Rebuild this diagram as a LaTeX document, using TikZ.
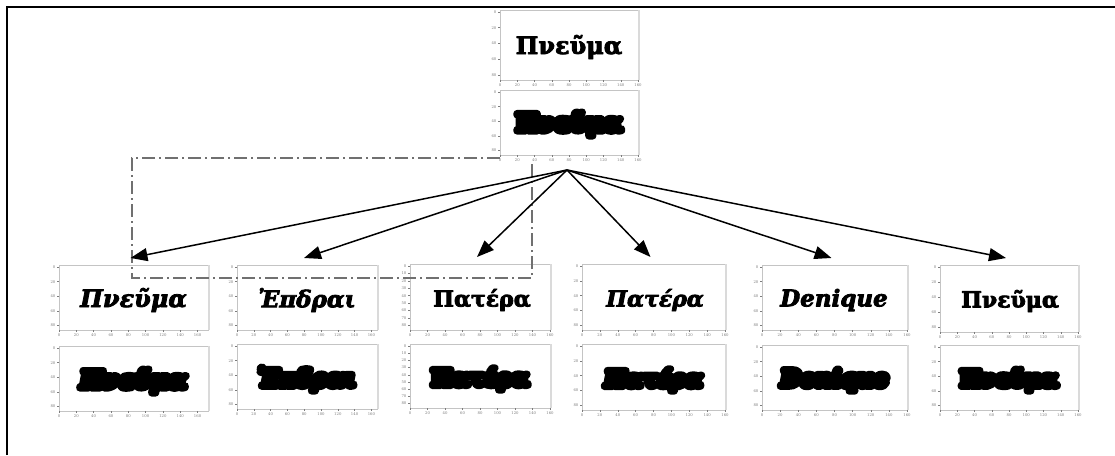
\documentclass[tikz,border=0pt]{standalone}
\usepackage{fontspec}
\setmainfont{DejaVu Serif}
\usetikzlibrary{arrows.meta}

\definecolor{boxgray}{HTML}{C4C4C4}
\definecolor{barsgray}{HTML}{DADADA}
\definecolor{tickgray}{HTML}{7C7C7C}
\definecolor{dashgray}{HTML}{707070}

% text filled and stroked with a pen of width #1 (round joins)
\newcommand\inkstroke[2]{%
  \special{pdf:literal direct 2 Tr #1 w 1 j 1 J}#2\special{pdf:literal direct 0 Tr}}

\tikzset{
  plotbox/.style={draw=boxgray, line width=0.8pt, fill=white, inner sep=0pt, outer sep=0pt},
  sidebar/.style={draw=barsgray, line width=2.5pt},
  tickmark/.style={draw=tickgray, line width=0.5pt},
  ticklabel/.style={font=\fontsize{3.8}{4}\selectfont, text=tickgray, inner sep=0.4pt},
  uprightword/.style={font=\bfseries\fontsize{#1}{#1}\selectfont, inner sep=0pt},
  italicword/.style={font=\bfseries\itshape\fontsize{#1}{#1}\selectfont, inner sep=0pt},
  link/.style={line width=1.5pt, -{Triangle[length=17pt,width=13pt]}},
  outline/.style={draw=dashgray, line width=1.4pt, dash pattern=on 13pt off 4pt on 2pt off 4pt},
  border/.style={draw=black, line width=2pt},
}

% one framed plot: #1 name, #2 centre x, #3 top y, #4 width, #5 height,
% #6 share of the width spanned by the x ticks, #7 y labels, #8 their number
\newcommand\plotpanel[8]{%
  \node[plotbox, minimum width=#4pt, minimum height=#5pt, anchor=north] (#1) at (#2,#3) {};
  \draw[sidebar] ([xshift=1pt]#1.north east) -- ([xshift=1pt]#1.south east);
  \foreach \lab [count=\k] in {0,20,40,60,80,100,120,140,160}{
    \pgfmathsetmacro\tx{(\k-1)/8*#6*#4}
    \draw[tickmark] ([xshift=\tx pt]#1.south west) -- ++(0,2);
    \node[ticklabel, anchor=north] (#1-x\k) at ([xshift=\tx pt, yshift=-3pt]#1.south west) {\lab};
  }
  \foreach \lab [count=\k] in {#7}{
    \pgfmathsetmacro\ty{(\k-1)/(#8-1)*0.9*#5+2}
    \draw[tickmark] ([yshift=-\ty pt]#1.north west) -- ++(-2,0);
    \node[ticklabel, anchor=east] (#1-y\k) at ([yshift=-\ty pt, xshift=-3pt]#1.north west) {\lab};
  }
}

\begin{document}
\begin{tikzpicture}[x=1pt, y=-1pt]
\useasboundingbox (0,0) rectangle (1115,455);

% outer border
\coordinate (fa) at (7,455);
\coordinate (fb) at (7,7);
\coordinate (fc) at (1115,7);
\draw[border] (fa) -- (fb) -- (fc);

% source word
\plotpanel{tu}{569}{10}{138}{70}{1}{0,20,40,60,80}{5}
\plotpanel{tl}{569}{90}{138}{65}{1}{0,20,40,60,80}{5}
\node[uprightword=24] (tw) at (569,47) {\inkstroke{0.8}{Πνεῦμα}};
\node[uprightword=24] (tb) at (569,124) {\inkstroke{7}{Πνεῦμα}};

% matched words
\plotpanel{p1u}{133.5}{265}{149}{65}{0.93}{0,20,40,60,80}{5}
\plotpanel{p1l}{133.5}{346}{149}{65}{0.93}{0,20,40,60,80}{5}
\node[italicword=24] (w1) at (133.5,300) {\inkstroke{0.8}{Πνεῦμα}};
\node[italicword=24] (b1) at (133.5,381) {\inkstroke{7}{Πνεῦμα}};

\plotpanel{p2u}{307}{265}{140}{65}{0.96}{0,20,40,60,80}{5}
\plotpanel{p2l}{307}{344}{140}{65}{0.96}{0,20,40,60,80}{5}
\node[italicword=23] (w2) at (307,300) {\inkstroke{0.8}{Ἐπδραι}};
\node[italicword=23] (b2) at (307,379) {\inkstroke{7}{Ἐπδραι}};

\plotpanel{p3u}{480}{264}{140}{66}{1}{0,10,20,30,40,50,60,70,80}{9}
\plotpanel{p3l}{480}{344}{140}{64}{1}{0,10,20,30,40,50,60,70,80}{9}
\node[uprightword=22] (w3) at (482,300) {\inkstroke{0.8}{Πατέρα}};
\node[uprightword=22] (b3) at (480,379) {\inkstroke{7}{Πατέρα}};

\plotpanel{p4u}{653.5}{264}{143}{66}{1}{0,20,40,60,80}{5}
\plotpanel{p4l}{653.5}{344}{143}{66}{1}{0,20,40,60,80}{5}
\node[italicword=22] (w4) at (655,300) {\inkstroke{0.8}{Πατέρα}};
\node[italicword=22] (b4) at (653.5,380) {\inkstroke{7}{Πατέρα}};

\plotpanel{p5u}{834.5}{265}{145}{65}{1}{0,20,40,60,80}{5}
\plotpanel{p5l}{834.5}{345}{145}{65}{1}{0,20,40,60,80}{5}
\node[italicword=23] (w5) at (834,300) {\inkstroke{0.8}{Denique}};
\node[italicword=23] (b5) at (834.5,380) {\inkstroke{7}{Denique}};

\plotpanel{p6u}{1009}{265}{138}{67}{1}{0,20,40,60,80}{5}
\plotpanel{p6l}{1009}{345}{138}{65}{1}{0,20,40,60,80}{5}
\node[uprightword=22] (w6) at (1010,301) {\inkstroke{0.8}{Πνεῦμα}};
\node[uprightword=22] (b6) at (1009,380) {\inkstroke{7}{Πνεῦμα}};

% dash-dot outline around the first three matches
\coordinate (oa) at (500,158);
\coordinate (ob) at (132,158);
\coordinate (oc) at (132,278);
\coordinate (od) at (532,278);
\coordinate (oe) at (532,161);
\draw[outline] (oa) -- (ob) -- (oc) -- (od) -- (oe);

% fan of arrows from the source word
\coordinate (hub) at (567,170);
\foreach \p in {p1u,p2u,p3u,p4u,p5u,p6u}{
  \draw[link] (hub) -- ([xshift=-3pt, yshift=7pt]\p.north);
}
\end{tikzpicture}
\end{document}
